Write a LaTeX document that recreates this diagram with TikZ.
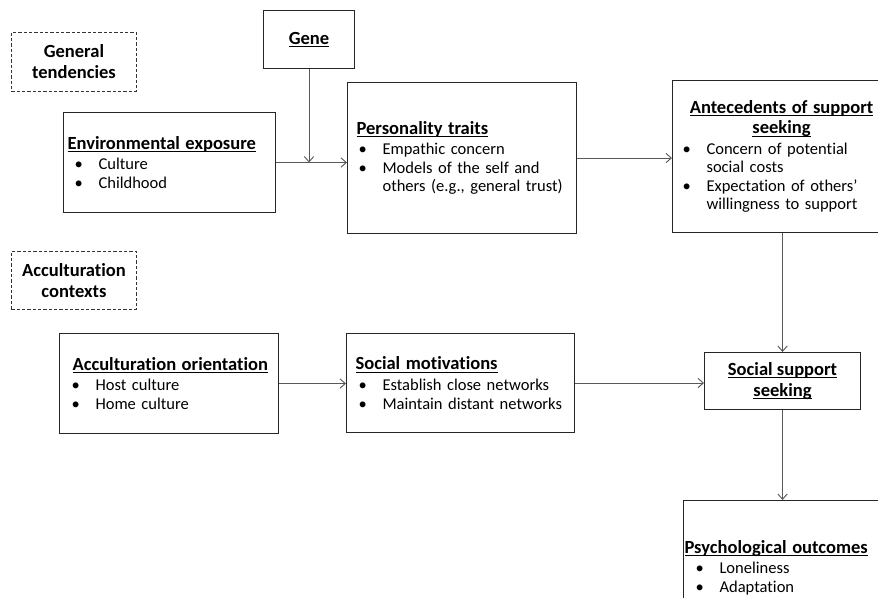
\documentclass[tikz,border=0pt]{standalone}
\usepackage{fontspec}
\setmainfont{Carlito}[Ligatures=NoCommon]
\usetikzlibrary{arrows.meta,positioning}
\newsavebox\headingbox
\newcommand{\uhead}[1]{\sbox\headingbox{\fontsize{13.9}{15.75}\selectfont\bfseries #1}\usebox\headingbox\llap{\rule[-1.9pt]{\wd\headingbox}{0.6pt}}}
\newcommand{\bitem}{\makebox[18pt][l]{\textbullet}}
\newcommand{\bcont}{\hspace*{18pt}}
\tikzset{
  % Base styles
  diagram base/.style={
    x=0.75pt, y=-0.75pt,
    >={Straight Barb[length=4pt,width=7pt]},
    every node/.style={font=\fontsize{12.4}{13.9}\selectfont},
  },
  % Boxes
  factor box/.style={draw=black!85, line width=0.8pt, anchor=north west, align=left, inner xsep=8.25pt, inner ysep=0pt},
  context box/.style={draw=black!80, dash pattern=on 2.5pt off 1.5pt, line width=0.7pt, anchor=north west, align=center, inner sep=0pt,
    font=\fontsize{13.9}{15.75}\selectfont\bfseries, minimum width=93.75pt},
  % Connectors
  flow arrow/.style={->, draw=black!65, line width=0.7pt},
}

\begin{document}
\begin{tikzpicture}[diagram base]
\useasboundingbox (0,0) rectangle (878,597);
\fill[white] (0,0) rectangle (878,597);
\clip (0,0) rectangle (878,597);

% Context labels
\node[context box, minimum height=44.25pt] (gentend) at (11,32) {General\\tendencies};
\node[context box, minimum height=43.5pt] (acccon) at (11,251) {Acculturation\\contexts};

% General tendencies row
\node[factor box, align=center, inner xsep=0pt, minimum width=68.25pt, minimum height=43.5pt] (gene) at (263,10) {\uhead{Gene}};
\node[factor box, text width=142.5pt, minimum height=75pt] (env) at (63,112)
  {\hspace*{-5.25pt}\uhead{Environmental exposure}\\[1.5pt] \bitem Culture\\ \bitem Childhood};
\node[factor box, text width=155.25pt, minimum height=113.25pt] (pers) at (347,82)
  {\hspace*{-1.5pt}\uhead{Personality traits}\\[1.5pt] \bitem Empathic concern\\ \bitem Models of the self and\\ \bcont others (e.g., general trust)};
\node[factor box, inner xsep=7.5pt, text width=156pt, minimum height=114pt] (ante) at (672,80)
  {\makebox[148.5pt][c]{\uhead{Antecedents of support}}\\[1.5pt] \makebox[148.5pt][c]{\uhead{seeking}}\\[1.5pt]
   \bitem Concern of potential\\ \bcont social costs\\ \bitem Expectation of others'\\ \bcont willingness to support};

% Acculturation contexts row
\node[factor box, inner xsep=9pt, text width=146.25pt, minimum height=75pt] (accor) at (59,333)
  {\hspace*{0.75pt}\uhead{Acculturation orientation}\\[1.5pt] \bitem Host culture\\ \bitem Home culture};
\node[factor box, inner xsep=9pt, text width=153pt, minimum height=74.25pt] (socmot) at (346,333)
  {\hspace*{-2.25pt}\uhead{Social motivations}\\[1.5pt] \bitem Establish close networks\\ \bitem Maintain distant networks};
\node[factor box, align=center, inner xsep=0pt, minimum width=117pt, minimum height=42.75pt] (sss) at (704,352)
  {\uhead{Social support}\\[1.5pt] \uhead{seeking}};
\node[factor box, inner xsep=9pt, text width=156pt, minimum height=100.5pt] (psy) at (683,500)
  {\hspace*{-8.25pt}\uhead{Psychological outcomes}\\[1.5pt] \bitem Loneliness\\ \bitem Adaptation};

% Connectors
\coordinate (genejoin) at (gene.south |- env.east);
\draw[flow arrow] (env.east) -- (env.east -| pers.west);
\draw[flow arrow] (gene.south) -- (genejoin);
\draw[flow arrow] (pers.east) -- (pers.east -| ante.west);
\draw[flow arrow] (ante.south -| sss.north) -- (sss.north);
\draw[flow arrow] (accor.east) -- (accor.east -| socmot.west);
\draw[flow arrow] (socmot.east) -- (socmot.east -| sss.west);
\draw[flow arrow] (sss.south) -- (sss.south |- psy.north);
\end{tikzpicture}
\end{document}
